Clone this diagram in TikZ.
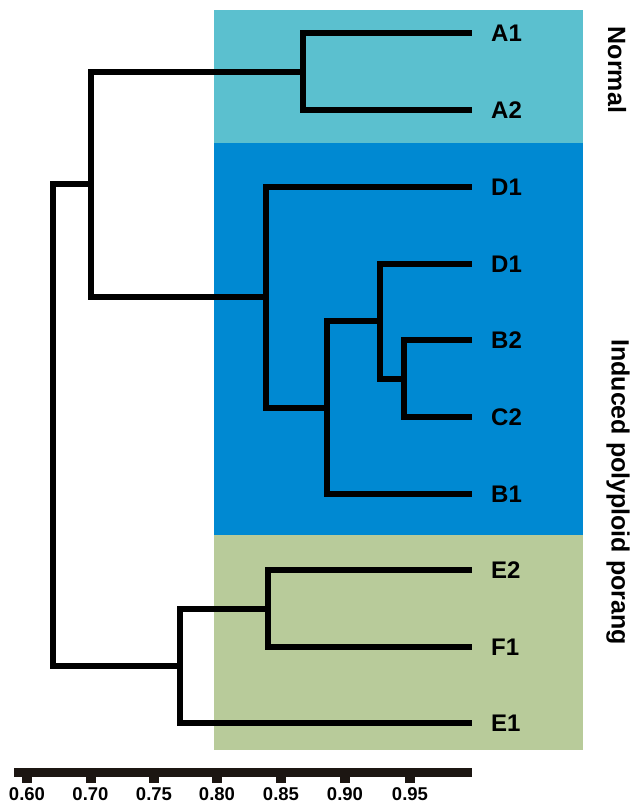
\documentclass[tikz,border=0pt]{standalone}
\usepackage{fontspec}
\setmainfont{Liberation Sans}
\usetikzlibrary{positioning}
\definecolor{normalbg}{RGB}{91,192,207}
\definecolor{inducedbg}{RGB}{0,137,210}
\definecolor{greenbg}{RGB}{184,203,154}
\definecolor{rulercol}{RGB}{28,22,18}

\begin{document}
\begin{tikzpicture}[x=1pt,y=-1pt,
	branch/.style={line width=6pt,line join=miter,black},
	leaflab/.style={inner sep=0pt,font=\fontsize{24}{28}\selectfont\bfseries},
	grouplab/.style={inner sep=0pt,rotate=-90,font=\fontsize{25}{29}\selectfont\bfseries},
	ticklab/.style={inner sep=0pt,anchor=north,font=\fontsize{18.5}{21}\selectfont\bfseries}]
	\useasboundingbox (0,0) rectangle (634,807);
	
	%Drawing the coloured group boxes
	\fill[normalbg] (214,10) rectangle (583,143);
	\fill[inducedbg] (214,143) rectangle (583,535);
	\fill[greenbg] (214,535) rectangle (583,750);
	
	%leaf tips
	\coordinate (tA1) at (472,33);
	\coordinate (tA2) at (472,110);
	\coordinate (tD1a) at (472,187);
	\coordinate (tD1b) at (472,264);
	\coordinate (tB2) at (472,340);
	\coordinate (tC2) at (472,417);
	\coordinate (tB1) at (472,494);
	\coordinate (tE2) at (472,570);
	\coordinate (tF1) at (472,647);
	\coordinate (tE1) at (472,723);
	
	%joins
	\coordinate (nA) at (303,71.5);
	\coordinate (nBC) at (404,378.5);
	\coordinate (nDBC) at (380,321);
	\coordinate (nDBCB) at (327,407.5);
	\coordinate (nBlue) at (266,297);
	\coordinate (nTop) at (91,184);
	\coordinate (nEF) at (268,608.5);
	\coordinate (nGreen) at (180,666);
	\coordinate (nRoot) at (53,425);
	
	%Drawing the tree
	\draw[branch] (nA) |- (tA1);
	\draw[branch] (nA) |- (tA2);
	\draw[branch] (nBC) |- (tB2);
	\draw[branch] (nBC) |- (tC2);
	\draw[branch] (nDBC) |- (tD1b);
	\draw[branch] (nDBC) |- (nBC);
	\draw[branch] (nDBCB) |- (nDBC);
	\draw[branch] (nDBCB) |- (tB1);
	\draw[branch] (nBlue) |- (tD1a);
	\draw[branch] (nBlue) |- (nDBCB);
	\draw[branch] (nTop) |- (nA);
	\draw[branch] (nTop) |- (nBlue);
	\draw[branch] (nEF) |- (tE2);
	\draw[branch] (nEF) |- (tF1);
	\draw[branch] (nGreen) |- (nEF);
	\draw[branch] (nGreen) |- (tE1);
	\draw[branch] (nRoot) |- (nTop);
	\draw[branch] (nRoot) |- (nGreen);
	
	%leaf labels
	\node[leaflab,right=19pt of tA1] (A1) {A1};
	\node[leaflab,right=19pt of tA2] (A2) {A2};
	\node[leaflab,right=19pt of tD1a] (D1a) {D1};
	\node[leaflab,right=19pt of tD1b] (D1b) {D1};
	\node[leaflab,right=19pt of tB2] (B2) {B2};
	\node[leaflab,right=19pt of tC2] (C2) {C2};
	\node[leaflab,right=19pt of tB1] (B1) {B1};
	\node[leaflab,right=19pt of tE2] (E2) {E2};
	\node[leaflab,right=19pt of tF1] (F1) {F1};
	\node[leaflab,right=19pt of tE1] (E1) {E1};
	
	%group labels
	\node[grouplab] (normal) at (617,70) {Normal};
	\node[grouplab] (induced) at (618,492) {Induced polyploid porang};
	
	%Drawing the scale bar
	\fill[rulercol] (14,768) rectangle (472,777);
	\coordinate (k1) at (27,783);
	\coordinate (k2) at (90.5,783);
	\coordinate (k3) at (154,783);
	\coordinate (k4) at (217,783);
	\coordinate (k5) at (281,783);
	\coordinate (k6) at (345,783);
	\coordinate (k7) at (410,783);
	\fill[rulercol] ([xshift=-5pt]k1) rectangle ([xshift=5pt,yshift=7pt]k1);
	\fill[rulercol] ([xshift=-5pt]k2) rectangle ([xshift=5pt,yshift=7pt]k2);
	\fill[rulercol] ([xshift=-5pt]k3) rectangle ([xshift=5pt,yshift=7pt]k3);
	\fill[rulercol] ([xshift=-5pt]k4) rectangle ([xshift=5pt,yshift=7pt]k4);
	\fill[rulercol] ([xshift=-5pt]k5) rectangle ([xshift=5pt,yshift=7pt]k5);
	\fill[rulercol] ([xshift=-5pt]k6) rectangle ([xshift=5pt,yshift=7pt]k6);
	\fill[rulercol] ([xshift=-5pt]k7) rectangle ([xshift=5pt,yshift=7pt]k7);
	\node[ticklab,below=4pt of k1] (l1) {0.60};
	\node[ticklab,below=4pt of k2] (l2) {0.70};
	\node[ticklab,below=4pt of k3] (l3) {0.75};
	\node[ticklab,below=4pt of k4] (l4) {0.80};
	\node[ticklab,below=4pt of k5] (l5) {0.85};
	\node[ticklab,below=4pt of k6] (l6) {0.90};
	\node[ticklab,below=4pt of k7] (l7) {0.95};
	
\end{tikzpicture}
\end{document}
